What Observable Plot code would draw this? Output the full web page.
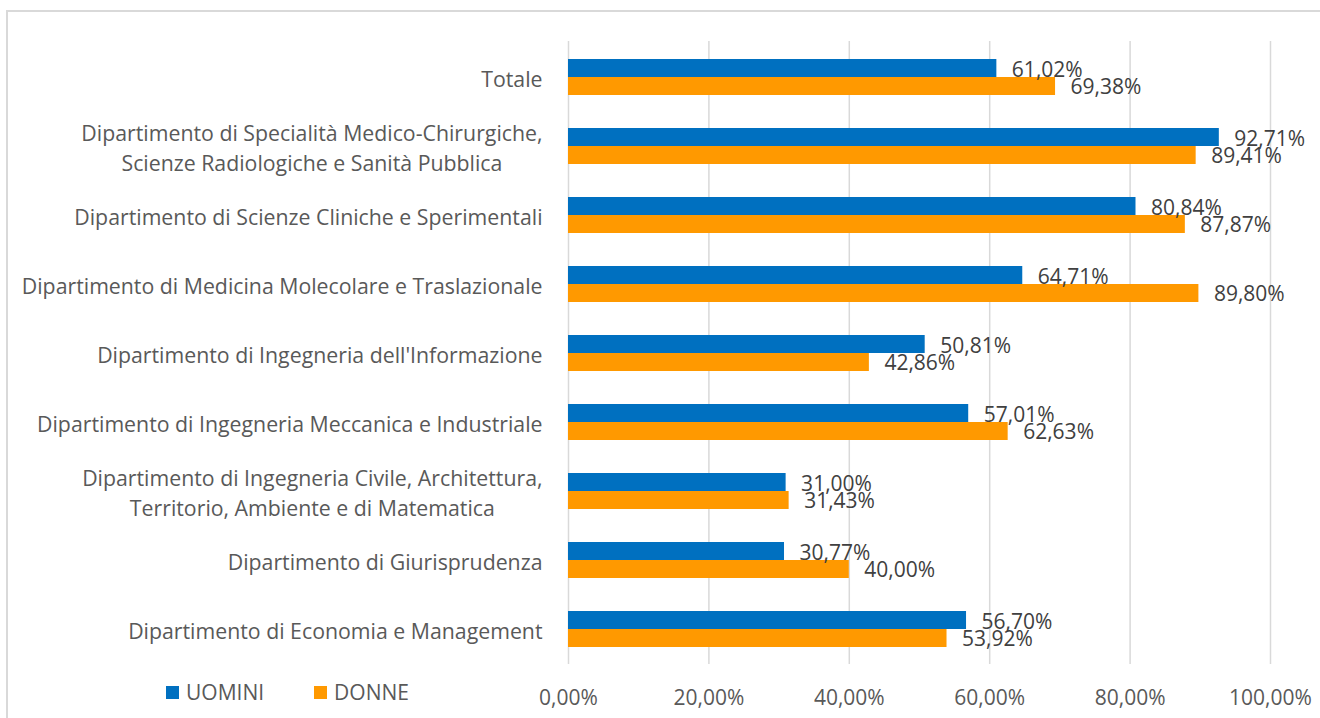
<!DOCTYPE html>
<html>
<head>
<meta charset="utf-8">
<script src="https://cdn.jsdelivr.net/npm/d3@7"></script>
<script src="https://cdn.jsdelivr.net/npm/@observablehq/plot@0.6"></script>
<style>
  html, body { margin: 0; padding: 0; background: #fff; }
  body { width: 1320px; height: 718px; position: relative; overflow: hidden; font-family: "Open Sans", sans-serif; }
  #frame { position: absolute; left: 6px; top: 10px; width: 1330px; height: 730px; border: 2px solid #d9d9d9; box-sizing: border-box; }
  #chart { position: absolute; left: 0; top: 0; }
  #legend { position: absolute; left: 166px; top: 678px; height: 28px; display: flex; align-items: center; font-size: 21px; line-height: 28px; color: #595959; }
  .item { display: flex; align-items: center; margin-right: 50px; }
  .sw { width: 13px; height: 13px; margin-right: 7px; }
</style>
</head>
<body>
<div id="frame"></div>
<div id="chart"></div>
<div id="legend"></div>
<script>
const categories = [
  "Totale",
  "Dipartimento di Specialità Medico-Chirurgiche,\nScienze Radiologiche e Sanità Pubblica",
  "Dipartimento di Scienze Cliniche e Sperimentali",
  "Dipartimento di Medicina Molecolare e Traslazionale",
  "Dipartimento di Ingegneria dell'Informazione",
  "Dipartimento di Ingegneria Meccanica e Industriale",
  "Dipartimento di Ingegneria Civile, Architettura,\nTerritorio, Ambiente e di Matematica",
  "Dipartimento di Giurisprudenza",
  "Dipartimento di Economia e Management"
];
const series = ["UOMINI", "DONNE"];
const uomini = [61.02, 92.71, 80.84, 64.71, 50.81, 57.01, 31.00, 30.77, 56.70];
const donne  = [69.38, 89.41, 87.87, 89.80, 42.86, 62.63, 31.43, 40.00, 53.92];
const xTicks = [0, 20, 40, 60, 80, 100];
const colors = ["#0070C0", "#FF9900"];

const fmt = v => v.toFixed(2).replace(".", ",") + "%";
const dataU = categories.map((c, i) => ({cat: c, value: uomini[i]}));
const dataD = categories.map((c, i) => ({cat: c, value: donne[i]}));

const FS = 21;
const CFS = 21.3;
const ctx = document.createElement("canvas").getContext("2d");
ctx.font = `${CFS}px 'Open Sans'`;
const maxW = c => Math.max(...c.split("\n").map(l => ctx.measureText(l).width));

const catLabelMarks = categories.map(c =>
  Plot.text([c], {
    y: d => d,
    text: d => d,
    frameAnchor: "left",
    textAnchor: "middle",
    lineAnchor: "middle",
    lineHeight: 1.38,
    dx: -(26 + maxW(c) / 2),
    fontSize: CFS,
    fill: "#595959"
  })
);

const chart = Plot.plot({
  width: 1320,
  height: 718,
  marginLeft: 568,
  marginRight: 50,
  marginTop: 41,
  marginBottom: 54,
  style: { fontFamily: "'Open Sans', sans-serif", background: "transparent" },
  x: { domain: [0, 100], ticks: xTicks, tickFormat: fmt, label: null, axis: null },
  y: { domain: categories, paddingInner: 0.48, paddingOuter: 0.24, axis: null },
  marks: [
    Plot.gridX(xTicks, { stroke: "#d9d9d9", strokeOpacity: 1, strokeWidth: 1.5 }),
    Plot.axisX({ ticks: xTicks, tickFormat: fmt, tickSize: 0, tickPadding: 26, fontSize: FS, color: "#595959", label: null }),
    Plot.barX(dataU, { x: "value", y: "cat", fill: colors[0], insetBottom: 18 }),
    Plot.barX(dataD, { x: "value", y: "cat", fill: colors[1], insetTop: 18 }),
    Plot.text(dataU, { x: "value", y: "cat", text: d => fmt(d.value), dy: -7, dx: 15, textAnchor: "start", fontSize: FS, fill: "#404040" }),
    Plot.text(dataD, { x: "value", y: "cat", text: d => fmt(d.value), dy: 10, dx: 15, textAnchor: "start", fontSize: FS, fill: "#404040" }),
    ...catLabelMarks
  ]
});
document.getElementById("chart").append(chart);

const legend = document.getElementById("legend");
series.forEach((s, i) => {
  const item = document.createElement("div");
  item.className = "item";
  item.innerHTML = `<div class="sw" style="background:${colors[i]}"></div><span>${s}</span>`;
  legend.append(item);
});
</script>
</body>
</html>
